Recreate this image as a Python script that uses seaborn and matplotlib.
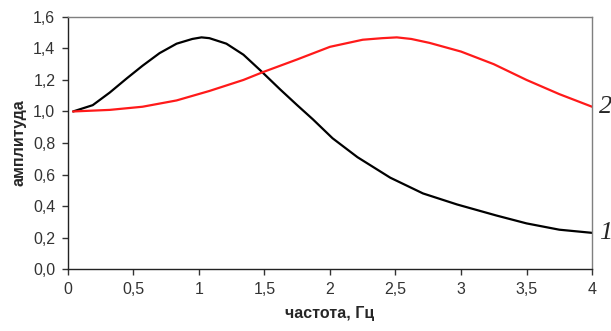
import matplotlib
matplotlib.use("Agg")
import matplotlib.pyplot as plt
from matplotlib.ticker import FuncFormatter, MultipleLocator
import pandas as pd
import seaborn as sns

# values
freq_1 = [0.04, 0.19, 0.32, 0.45, 0.57, 0.70, 0.83, 0.95, 1.02, 1.08, 1.21, 1.34, 1.47, 1.62,
          1.75, 1.87, 2.02, 2.21, 2.46, 2.71, 2.97, 3.27, 3.50, 3.75, 4.00]
amp_1 = [1.00, 1.04, 1.12, 1.21, 1.29, 1.37, 1.43, 1.46, 1.47, 1.465, 1.43, 1.36, 1.26, 1.14,
         1.04, 0.95, 0.83, 0.71, 0.58, 0.48, 0.41, 0.34, 0.29, 0.25, 0.23]

freq_2 = [0.04, 0.32, 0.57, 0.83, 1.08, 1.34, 1.49, 1.75, 2.00, 2.25, 2.40, 2.51, 2.62, 2.76,
          3.00, 3.25, 3.50, 3.75, 4.00]
amp_2 = [1.00, 1.01, 1.03, 1.07, 1.13, 1.20, 1.25, 1.33, 1.41, 1.455, 1.465, 1.47, 1.46, 1.435,
         1.38, 1.30, 1.20, 1.11, 1.03]

curve_labels = ["1", "2"]
curve_colors = ["black", "#ff1a1a"]

df = pd.concat([
    pd.DataFrame({"freq": freq_1, "amp": amp_1, "curve": curve_labels[0]}),
    pd.DataFrame({"freq": freq_2, "amp": amp_2, "curve": curve_labels[1]}),
])

sns.set_theme(style="ticks")
plt.rcParams["font.family"] = ["Liberation Sans", "DejaVu Sans"]

fig = plt.figure(figsize=(6.11, 3.31), dpi=100)
ax = fig.add_axes([0.111, 0.187, 0.858, 0.762])

sns.lineplot(data=df, x="freq", y="amp", hue="curve", palette=curve_colors,
             hue_order=curve_labels, ax=ax, linewidth=1.6, legend=False, sort=True)

ax.set_xlim(0, 4)
ax.set_ylim(0, 1.6)
ax.xaxis.set_major_locator(MultipleLocator(0.5))
ax.yaxis.set_major_locator(MultipleLocator(0.2))
ax.xaxis.set_major_formatter(FuncFormatter(lambda v, p: f"{v:g}".replace(".", ",")))
ax.yaxis.set_major_formatter(FuncFormatter(lambda v, p: f"{v:.1f}".replace(".", ",")))
ax.tick_params(axis="both", direction="out", length=4, width=1, labelsize=11.5,
               colors="#333333", labelcolor="#333333", pad=5)

for side in ("left", "bottom"):
    ax.spines[side].set_color("#222222")
    ax.spines[side].set_linewidth(1)
for side in ("top", "right"):
    ax.spines[side].set_visible(True)
    ax.spines[side].set_color("#7f7f7f")
    ax.spines[side].set_linewidth(1)

ax.set_xlabel("частота, Гц", fontsize=11.5, fontweight="bold", labelpad=7)
ax.set_ylabel("амплитуда", fontsize=11.5, fontweight="bold", labelpad=5)

# curve numbers at the right edge
for lab, y_end in zip(curve_labels, [amp_1[-1], amp_2[-1]]):
    ax.annotate(lab, xy=(1, y_end), xycoords=("axes fraction", "data"),
                xytext=(5, 0), textcoords="offset points", va="center", ha="left",
                fontsize=19, fontstyle="italic", family="Liberation Serif",
                annotation_clip=False)

fig.savefig("out.png", dpi=100)
